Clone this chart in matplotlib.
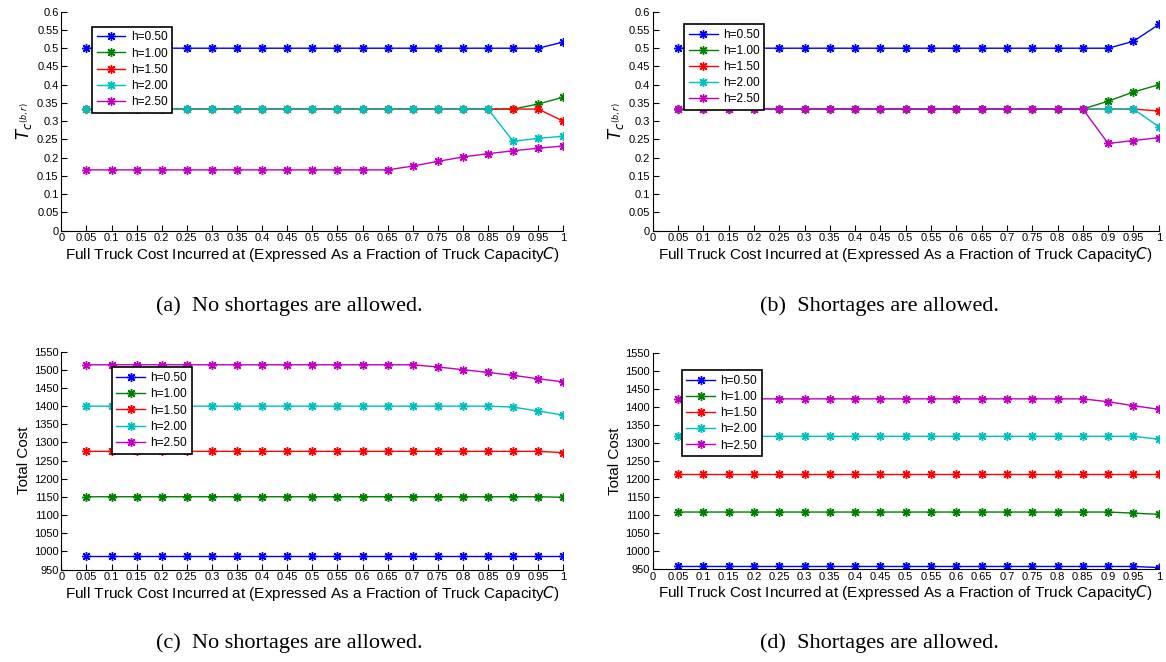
import matplotlib
matplotlib.use("Agg")
import matplotlib.pyplot as plt

plt.rcParams['font.family'] = ['Liberation Sans', 'DejaVu Sans']

# fraction of truck capacity at which full truck cost is incurred
frac = [0.05, 0.1, 0.15, 0.2, 0.25, 0.3, 0.35, 0.4, 0.45, 0.5,
        0.55, 0.6, 0.65, 0.7, 0.75, 0.8, 0.85, 0.9, 0.95, 1.0]
labels = ['h=0.50', 'h=1.00', 'h=1.50', 'h=2.00', 'h=2.50']
colors = ['#0000ff', '#008000', '#ff0000', '#00bfbf', '#bf00bf']

# (a) T_c, no shortages
tc_a = [
    [0.5] * 19 + [0.517],
    [0.3333] * 18 + [0.347, 0.366],
    [0.3333] * 19 + [0.300],
    [0.3333] * 17 + [0.245, 0.253, 0.259],
    [0.1667] * 13 + [0.177, 0.190, 0.202, 0.211, 0.219, 0.226, 0.232],
]
# (b) T_c, shortages allowed
tc_b = [
    [0.5] * 18 + [0.519, 0.565],
    [0.3333] * 17 + [0.355, 0.380, 0.400],
    [0.3333] * 19 + [0.328],
    [0.3333] * 19 + [0.285],
    [0.3333] * 17 + [0.239, 0.247, 0.255],
]
# (c) total cost, no shortages
cost_c = [
    [988] * 20,
    [1150.5] * 19 + [1149],
    [1275.5] * 19 + [1272],
    [1400] * 17 + [1397.5, 1386.5, 1375.5],
    [1514] * 13 + [1514, 1508, 1500.5, 1493, 1485, 1475.5, 1467],
]
# (d) total cost, shortages allowed
cost_d = [
    [957] * 19 + [954],
    [1108] * 18 + [1105, 1101.5],
    [1213.5] * 20,
    [1318] * 19 + [1310],
    [1422] * 17 + [1414, 1403, 1393],
]

fig = plt.figure(figsize=(11.66, 6.62), dpi=100)

panels = [
    # data, rect, ylim, yticks, ylabel, legend corner (axes fraction), caption, caption pos
    (tc_a, [0.0526, 0.6515, 0.4305, 0.3308], (0, 0.6),
     [i * 0.05 for i in range(13)], r'$T_{c^{(b,r)}}$', (0.061, 0.932),
     '(a)  No shortages are allowed.', (289, 311)),
    (tc_b, [0.5598, 0.6515, 0.4340, 0.3308], (0, 0.6),
     [i * 0.05 for i in range(13)], r'$T_{c^{(b,r)}}$', (0.062, 0.944),
     '(b)  Shortages are allowed.', (879, 311)),
    (cost_c, [0.0526, 0.1397, 0.4305, 0.3290], (950, 1550),
     list(range(950, 1551, 50)), 'Total Cost', (0.100, 0.928),
     '(c)  No shortages are allowed.', (289, 648)),
    (cost_d, [0.5598, 0.1405, 0.4340, 0.3267], (950, 1550),
     list(range(950, 1551, 50)), 'Total Cost', (0.057, 0.920),
     '(d)  Shortages are allowed.', (879, 648)),
]

xticks = [i * 0.05 for i in range(21)]
asterisk = (8, 2, 0)

for data, rect, ylim, yticks, ylabel, legpos, caption, cpos in panels:
    ax = fig.add_axes(rect)
    for series, lab, col in zip(data, labels, colors):
        ax.plot(frac, series, color=col, marker=asterisk, markersize=6.5,
                markeredgewidth=1.0, linewidth=1.0, label=lab)
    ax.set_xlim(0, 1)
    ax.set_ylim(*ylim)
    ax.set_xticks(xticks)
    ax.set_xticklabels(['%g' % round(t, 2) for t in xticks])
    ax.set_yticks(yticks)
    ax.set_yticklabels(['%g' % round(t, 2) for t in yticks])
    ax.spines['top'].set_visible(False)
    ax.spines['right'].set_visible(False)
    ax.tick_params(direction='in', length=4, width=0.8, labelsize=8, pad=2)
    ax.set_xlabel(r'Full Truck Cost Incurred at (Expressed As a Fraction of Truck Capacity$C$)',
                  fontsize=11, labelpad=1)
    ax.set_ylabel(ylabel, fontsize=12 if ylabel.startswith('$') else 11, labelpad=2)
    leg = ax.legend(loc='upper left', bbox_to_anchor=legpos, fontsize=8.6,
                    fancybox=False, edgecolor='black', framealpha=1,
                    handlelength=2.4, borderpad=0.4, labelspacing=0.35,
                    handletextpad=0.45, borderaxespad=0)
    leg.get_frame().set_linewidth(1.2)
    fig.text(cpos[0] / 1166, 1 - cpos[1] / 662, caption, ha='center',
             va='baseline', fontsize=16,
             family=['Liberation Serif', 'DejaVu Serif'])

fig.savefig('out.png', dpi=100)
